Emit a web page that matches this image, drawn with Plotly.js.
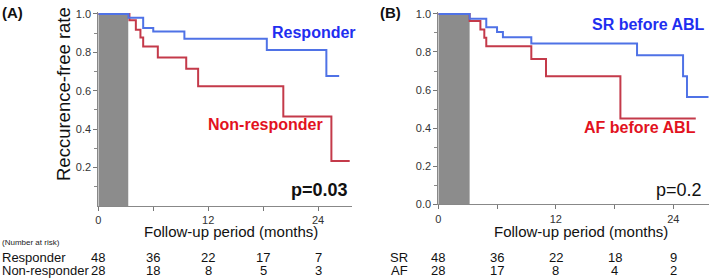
<!DOCTYPE html>
<html><head><meta charset="utf-8">
<script src="https://cdn.plot.ly/plotly-3.0.1.min.js"></script>
<style>html,body{margin:0;padding:0;background:#fff}#chart{width:709px;height:280px}</style>
</head><body><div id="chart"></div>
<script>
// Panel A: Kaplan-Meier (months, survival)
const respTimeA    = [0, 3.3, 4.9, 6.0, 9.4, 18.4, 24.9, 26.3];
const respSurvA    = [1.0, 0.98, 0.927, 0.909, 0.871, 0.812, 0.677, 0.677];
const nonrespTimeA = [0, 3.4, 4.1, 4.6, 4.9, 6.5, 9.6, 10.9, 20.2, 25.45, 27.45];
const nonrespSurvA = [1.0, 0.967, 0.917, 0.877, 0.831, 0.773, 0.715, 0.623, 0.466, 0.234, 0.234];
// Panel B
const srTimeB = [0, 3.2, 4.9, 6.0, 6.6, 9.5, 20.3, 25.0, 25.4, 27.6];
const srSurvB = [1.0, 0.975, 0.93, 0.905, 0.877, 0.845, 0.783, 0.672, 0.563, 0.563];
const afTimeB = [0, 3.2, 4.3, 4.7, 4.9, 9.5, 11.0, 18.6, 26.3];
const afSurvB = [1.0, 0.963, 0.918, 0.875, 0.83, 0.763, 0.672, 0.45, 0.45];
// Number at risk
const riskMonths = [0, 6, 12, 18, 24];
const riskRespA = [48, 36, 22, 17, 7];
const riskNonA  = [28, 18, 8, 5, 3];
const riskSRB   = [48, 36, 22, 18, 9];
const riskAFB   = [28, 17, 8, 4, 2];
const rowLabelsA = ["Responder", "Non-responder"];
const rowLabelsB = ["SR", "AF"];
const xTickVals = [0, 6, 12, 18, 24];
const xTickText = ["0", "", "12", "", "24"];
const yTickValsA = [0.2, 0.4, 0.6, 0.8, 1.0];
const yTickTextA = ["0.2", "0.4", "0.6", "0.8", "1.0"];
const yTickValsB = [0, 0.2, 0.4, 0.6, 0.8, 1.0];
const yTickTextB = ["0.0", "0.2", "0.4", "0.6", "0.8", "1.0"];
const blankPeriod = 3.2;

const W = 709, H = 280;
const M = {l: 0, r: 0, t: 12, b: 0};
const PW = W - M.l - M.r, PH = H - M.t - M.b;
const px = v => (v - M.l) / PW, py = v => 1 - (v - M.t) / PH;
const BLUE = "#4f72e6", RED = "#c43a4a";
const BLUE_T = "#1f2ff0", RED_T = "#e2121e";
const FONT = "Liberation Sans, Arial, sans-serif";

function step(x, y, color, xa, ya) {
  return {x, y, type: "scatter", mode: "lines", line: {shape: "hv", color, width: 2},
          xaxis: xa, yaxis: ya, hoverinfo: "skip", showlegend: false};
}
const traces = [
  step(nonrespTimeA, nonrespSurvA, RED, "x", "y"),
  step(respTimeA, respSurvA, BLUE, "x", "y"),
  step(afTimeB, afSurvB, RED, "x2", "y2"),
  step(srTimeB, srSurvB, BLUE, "x2", "y2"),
];

const yTop = 1.01;
function yax(domain, vals, text) {
  return {domain, range: [0, yTop], tickvals: vals, ticktext: text, ticks: "outside", ticklen: 4,
          tickcolor: "#777", showline: true, linecolor: "#888", linewidth: 1, showgrid: false, zeroline: false,
          tickfont: {size: 11, color: "#333", family: FONT},
          minor: {tickvals: [0.1, 0.3, 0.5, 0.7, 0.9], ticks: "outside", ticklen: 3, tickcolor: "#888"}};
}
function xax(domain, range) {
  return {domain, range, tickvals: xTickVals, ticktext: xTickText, ticks: "outside", ticklen: 4,
          tickcolor: "#777", showline: true, linecolor: "#888", linewidth: 1, showgrid: false, zeroline: false,
          tickfont: {size: 11, color: "#333", family: FONT}};
}

const annotations = [];
function txt(x, y, text, opts) {
  annotations.push(Object.assign({x, y, xref: "paper", yref: "paper", text, showarrow: false,
    xanchor: "center", yanchor: "middle", font: {family: FONT, size: 13, color: "#111"}}, opts || {}));
}
txt(px(0), py(12), "<b>(A)</b>", {xanchor: "left", font: {family: FONT, size: 15, color: "#111"}});
txt(px(378), py(12), "<b>(B)</b>", {xanchor: "left", font: {family: FONT, size: 15, color: "#111"}});
txt(px(63), py(94), "Reccurence-free rate", {textangle: -90, font: {family: FONT, size: 18.5, color: "#111"}});
txt(px(231), py(231), "Follow-up period (months)", {font: {family: FONT, size: 15, color: "#111"}});
txt(px(581), py(231), "Follow-up period (months)", {font: {family: FONT, size: 15, color: "#111"}});
txt(px(358), py(32), "<b>Responder</b>", {xanchor: "right", font: {family: FONT, size: 16, color: BLUE_T}});
txt(px(325), py(124), "<b>Non-responder</b>", {xanchor: "right", font: {family: FONT, size: 16, color: RED_T}});
txt(px(350), py(190), "<b>p=0.03</b>", {xanchor: "right", font: {family: FONT, size: 18, color: "#111"}});
txt(px(707), py(25), "<b>SR before ABL</b>", {xanchor: "right", font: {family: FONT, size: 16, color: BLUE_T}});
txt(px(698), py(127), "<b>AF before ABL</b>", {xanchor: "right", font: {family: FONT, size: 16, color: RED_T}});
txt(px(704), py(190), "p=0.2", {xanchor: "right", font: {family: FONT, size: 18, color: "#111"}});
txt(px(0), py(242), "(Number at risk)", {xanchor: "left", font: {family: FONT, size: 8, color: "#222"}});
txt(px(0), py(257), rowLabelsA[0], {xanchor: "left"});
txt(px(0), py(270), rowLabelsA[1], {xanchor: "left"});
txt(px(410), py(257), rowLabelsB[0], {xanchor: "right"});
txt(px(410), py(270), rowLabelsB[1], {xanchor: "right"});
function riskRow(vals, xref, yPx) {
  vals.forEach((v, i) => annotations.push({x: riskMonths[i], y: py(yPx), xref, yref: "paper",
    text: String(v), showarrow: false, xanchor: "center", yanchor: "middle",
    font: {family: FONT, size: 13, color: "#111"}}));
}
riskRow(riskRespA, "x", 257); riskRow(riskNonA, "x", 270);
riskRow(riskSRB, "x2", 257); riskRow(riskAFB, "x2", 270);

const shapes = [
  {type: "rect", xref: "x", yref: "y", x0: 0, x1: blankPeriod + 0.07, y0: 0, y1: 1.0, fillcolor: "#8c8c8c", line: {width: 0}, layer: "below"},
  {type: "rect", xref: "x2", yref: "y2", x0: 0, x1: blankPeriod, y0: 0, y1: 1.0, fillcolor: "#8c8c8c", line: {width: 0}, layer: "below"},
];

const layout = {
  width: W, height: H, margin: M, paper_bgcolor: "#fff", plot_bgcolor: "#fff",
  font: {family: FONT},
  xaxis: xax([px(98.3), px(352)], [0, 27.7]),
  yaxis: yax([py(206), Math.min(1, py(206 - 200 * yTop))], yTickValsA, yTickTextA),
  xaxis2: xax([px(438.3), 1], [0, 27.65]),
  yaxis2: Object.assign(yax([py(204.3), Math.min(1, py(204.3 - 200 * yTop))], yTickValsB, yTickTextB), {anchor: "x2"}),
  annotations, shapes, showlegend: false,
};
layout.xaxis2.anchor = "y2";
Plotly.newPlot("chart", traces, layout, {staticPlot: true, displayModeBar: false});
</script></body></html>
